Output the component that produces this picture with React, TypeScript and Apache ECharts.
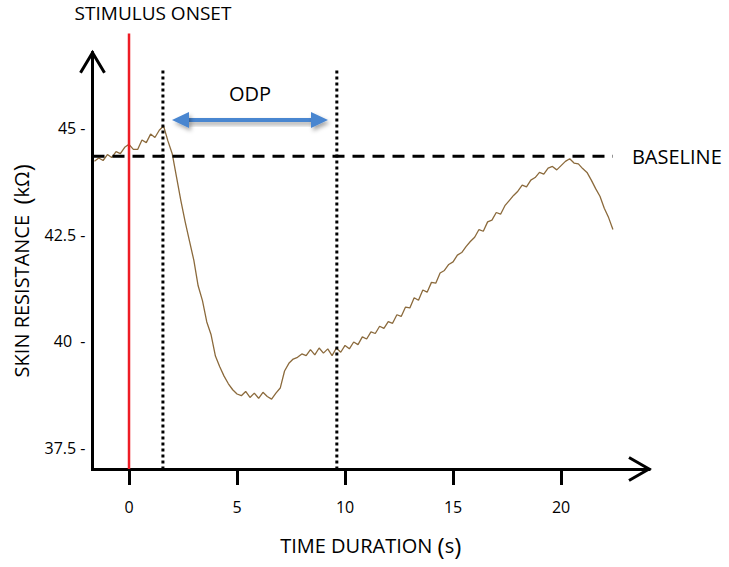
import React, { useEffect, useRef } from "react";
import * as echarts from "echarts";

// Time (s) of each sample of the skin resistance trace
const TIME_S = [
  -1.6, -1.4, -1.2, -1.0, -0.8, -0.6, -0.4, -0.2, 0.0, 0.2,
  0.4, 0.6, 0.8, 1.0, 1.2, 1.4, 1.6, 1.8, 2.0, 2.2,
  2.4, 2.6, 2.8, 3.0, 3.2, 3.4, 3.6, 3.8, 4.0, 4.2,
  4.4, 4.6, 4.8, 5.0, 5.2, 5.4, 5.6, 5.8, 6.0, 6.2,
  6.4, 6.6, 6.8, 7.0, 7.2, 7.4, 7.6, 7.8, 8.0, 8.2,
  8.4, 8.6, 8.8, 9.0, 9.2, 9.4, 9.6, 9.8, 10.0, 10.2,
  10.4, 10.6, 10.8, 11.0, 11.2, 11.4, 11.6, 11.8, 12.0, 12.2,
  12.4, 12.6, 12.8, 13.0, 13.2, 13.4, 13.6, 13.8, 14.0, 14.2,
  14.4, 14.6, 14.8, 15.0, 15.2, 15.4, 15.6, 15.8, 16.0, 16.2,
  16.4, 16.6, 16.8, 17.0, 17.2, 17.4, 17.6, 17.8, 18.0, 18.2,
  18.4, 18.6, 18.8, 19.0, 19.2, 19.4, 19.6, 19.8, 20.0, 20.2,
  20.4, 20.6, 20.8, 21.0, 21.2, 21.4, 21.6, 21.8, 22.0, 22.2,
  22.4,
];

// Skin resistance (kΩ)
const RESISTANCE_KOHM = [
  44.22, 44.30, 44.24, 44.38, 44.31, 44.45, 44.40, 44.55, 44.62, 44.50,
  44.50, 44.72, 44.66, 44.86, 44.78, 44.95, 45.05, 44.70, 44.40, 43.85,
  43.30, 42.80, 42.35, 41.90, 41.30, 40.95, 40.45, 40.15, 39.65, 39.40,
  39.18, 39.00, 38.86, 38.76, 38.72, 38.82, 38.68, 38.78, 38.66, 38.80,
  38.70, 38.64, 38.78, 38.90, 39.30, 39.48, 39.58, 39.62, 39.70, 39.66,
  39.80, 39.68, 39.84, 39.72, 39.82, 39.66, 39.84, 39.74, 39.90, 39.82,
  39.98, 39.92, 40.10, 40.05, 40.22, 40.18, 40.35, 40.30, 40.46, 40.42,
  40.62, 40.58, 40.80, 40.78, 41.02, 40.96, 41.20, 41.15, 41.38, 41.36,
  41.60, 41.66, 41.80, 41.86, 42.02, 42.08, 42.22, 42.34, 42.44, 42.62,
  42.58, 42.80, 42.84, 43.02, 42.98, 43.18, 43.30, 43.42, 43.52, 43.66,
  43.62, 43.78, 43.84, 43.96, 43.92, 44.06, 44.10, 44.02, 44.12, 44.22,
  44.28, 44.18, 44.16, 44.05, 43.96, 43.78, 43.58, 43.40, 43.12, 42.90,
  42.62,
];

const X_TICKS = [0, 5, 10, 15, 20];
const Y_TICKS = [37.5, 40, 42.5, 45];
const Y_TICK_LABELS = ["37.5 -", "40\u00a0\u00a0-", "42.5 -", "45 -"];

const X_MIN = -1.69;
const X_MAX = 24.07;
const Y_MIN = 37;
const Y_MAX = 46.77;

// Annotations
const ONSET_T = 0;
const ONSET_TOP_KOHM = 47.22;
const ODP_START_T = 1.57;
const ODP_END_T = 9.62;
const DOTTED_TOP_KOHM = 46.35;
const BASELINE_KOHM = 44.34;
const BASELINE_END_T = 22.4;
const ODP_ARROW_FROM_T = 1.99;
const ODP_ARROW_TO_T = 9.21;
const ODP_ARROW_KOHM = 45.19;

const FONT = "'Open Sans', 'Noto Sans', sans-serif";

export default function App() {
  const ref = useRef<HTMLDivElement>(null);

  useEffect(() => {
    if (!ref.current) return;
    const chart = echarts.init(ref.current, null, { renderer: "svg" });

    const data = TIME_S.map((t, i) => [t, RESISTANCE_KOHM[i]]);

    chart.setOption({
      animation: false,
      backgroundColor: "#ffffff",
      grid: {
        left: 92.5,
        right: 80,
        top: 52.7,
        bottom: 98,
        containLabel: false,
        outerBoundsMode: "none",
      },
      xAxis: {
        type: "value",
        min: X_MIN,
        max: X_MAX,
        name: "TIME DURATION {p|(}s{p|)}",
        nameLocation: "middle",
        nameGap: 64,
        nameTextStyle: {
          fontFamily: FONT,
          fontSize: 20,
          color: "#000",
          rich: { p: { fontFamily: FONT, fontSize: 24, color: "#000" } },
        },
        axisLine: {
          show: true,
          onZero: false,
          lineStyle: { color: "#000", width: 3, cap: "square" },
        },
        axisTick: {
          show: true,
          customValues: X_TICKS,
          length: 16,
          inside: false,
          lineStyle: { color: "#000", width: 3 },
        },
        axisLabel: {
          customValues: X_TICKS,
          margin: 30,
          fontFamily: FONT,
          fontSize: 16,
          color: "#000",
        },
        splitLine: { show: false },
      },
      yAxis: {
        type: "value",
        min: Y_MIN,
        max: Y_MAX,
        name: "SKIN RESISTANCE  {p|(}kΩ{p|)}",
        nameLocation: "middle",
        nameRotate: 90,
        nameGap: 59,
        nameTextStyle: {
          fontFamily: FONT,
          fontSize: 20,
          color: "#000",
          padding: [0, 20, 0, 0],
          rich: { p: { fontFamily: FONT, fontSize: 24, color: "#000" } },
        },
        axisLine: {
          show: true,
          onZero: false,
          lineStyle: { color: "#000", width: 3, cap: "square" },
        },
        axisTick: { show: false },
        axisLabel: {
          customValues: Y_TICKS,
          margin: 7,
          fontFamily: FONT,
          fontSize: 16,
          color: "#000",
          formatter: (v: number) => {
            const i = Y_TICKS.indexOf(v);
            return i >= 0 ? Y_TICK_LABELS[i] : "";
          },
        },
        splitLine: { show: false },
      },
      series: [
        {
          type: "line",
          data,
          showSymbol: false,
          symbol: "none",
          z: 2,
          lineStyle: { color: "#8b6a3c", width: 1.3 },
        },
      ],
    });

    const px = (t: number, v: number) =>
      chart.convertToPixel({ seriesIndex: 0 }, [t, v]) as number[];

    const [originX, originY] = px(X_MIN, Y_MIN);
    const [xTipX] = px(X_MAX, Y_MIN);
    const [, yTipY] = px(X_MIN, Y_MAX);

    const [onsetX, onsetBottom] = px(ONSET_T, Y_MIN);
    const [, onsetTop] = px(ONSET_T, ONSET_TOP_KOHM);
    const [odp1X] = px(ODP_START_T, Y_MIN);
    const [odp2X] = px(ODP_END_T, Y_MIN);
    const [, dottedTop] = px(ODP_START_T, DOTTED_TOP_KOHM);
    const [baseEndX, baseY] = px(BASELINE_END_T, BASELINE_KOHM);
    const [arrFromX, arrY] = px(ODP_ARROW_FROM_T, ODP_ARROW_KOHM);
    const [arrToX] = px(ODP_ARROW_TO_T, ODP_ARROW_KOHM);

    const blue = "#4a86d0";
    const shadow = {
      shadowBlur: 4,
      shadowColor: "rgba(0,0,0,0.35)",
      shadowOffsetX: 2,
      shadowOffsetY: 3,
    };
    const headLen = 17;
    const headHalf = 8;

    chart.setOption({
      graphic: [
        {
          type: "polyline",
          z: 100,
          shape: {
            points: [
              [xTipX - 20, originY - 11.5],
              [xTipX, originY],
              [xTipX - 20, originY + 11.5],
            ],
          },
          style: { stroke: "#000", lineWidth: 3, fill: "none", lineJoin: "miter" },
        },
        {
          type: "polyline",
          z: 100,
          shape: {
            points: [
              [originX - 12, yTipY + 20],
              [originX, yTipY],
              [originX + 12, yTipY + 20],
            ],
          },
          style: { stroke: "#000", lineWidth: 3, fill: "none", lineJoin: "miter" },
        },
        {
          type: "line",
          z: 90,
          shape: { x1: originX, y1: baseY, x2: baseEndX, y2: baseY },
          style: { stroke: "#000", lineWidth: 3, lineDash: [12, 8] },
        },
        {
          type: "line",
          z: 95,
          shape: { x1: onsetX, y1: onsetTop, x2: onsetX, y2: onsetBottom },
          style: { stroke: "#ee1c25", lineWidth: 2.5 },
        },
        {
          type: "line",
          z: 95,
          shape: { x1: odp1X, y1: dottedTop, x2: odp1X, y2: onsetBottom },
          style: { stroke: "#000", lineWidth: 3, lineDash: [3, 3] },
        },
        {
          type: "line",
          z: 95,
          shape: { x1: odp2X, y1: dottedTop, x2: odp2X, y2: onsetBottom },
          style: { stroke: "#000", lineWidth: 3, lineDash: [3, 3] },
        },
        {
          type: "rect",
          z: 96,
          shape: {
            x: arrFromX + headLen - 2,
            y: arrY - 2,
            width: arrToX - arrFromX - 2 * headLen + 4,
            height: 4,
          },
          style: { fill: blue, ...shadow },
        },
        {
          type: "polygon",
          z: 96,
          shape: {
            points: [
              [arrFromX, arrY],
              [arrFromX + headLen, arrY - headHalf],
              [arrFromX + headLen, arrY + headHalf],
            ],
          },
          style: { fill: blue, ...shadow },
        },
        {
          type: "polygon",
          z: 96,
          shape: {
            points: [
              [arrToX, arrY],
              [arrToX - headLen, arrY - headHalf],
              [arrToX - headLen, arrY + headHalf],
            ],
          },
          style: { fill: blue, ...shadow },
        },
        {
          type: "text",
          z: 100,
          x: onsetX + 24,
          y: onsetTop - 21,
          style: {
            text: "STIMULUS ONSET",
            fontFamily: FONT,
            fontSize: 19,
            fill: "#000",
            align: "center",
            verticalAlign: "middle",
          },
        },
        {
          type: "text",
          z: 100,
          x: (arrFromX + arrToX) / 2,
          y: arrY - 27,
          style: {
            text: "ODP",
            fontFamily: FONT,
            fontSize: 20,
            fill: "#000",
            align: "center",
            verticalAlign: "middle",
          },
        },
        {
          type: "text",
          z: 100,
          x: baseEndX + 19,
          y: baseY,
          style: {
            text: "BASELINE",
            fontFamily: FONT,
            fontSize: 20,
            fill: "#000",
            align: "left",
            verticalAlign: "middle",
          },
        },
      ],
    });

    return () => chart.dispose();
  }, []);

  return (
    <div
      ref={ref}
      style={{
        position: "fixed",
        left: 0,
        top: 0,
        width: 729,
        height: 567,
        background: "#fff",
      }}
    />
  );
}
